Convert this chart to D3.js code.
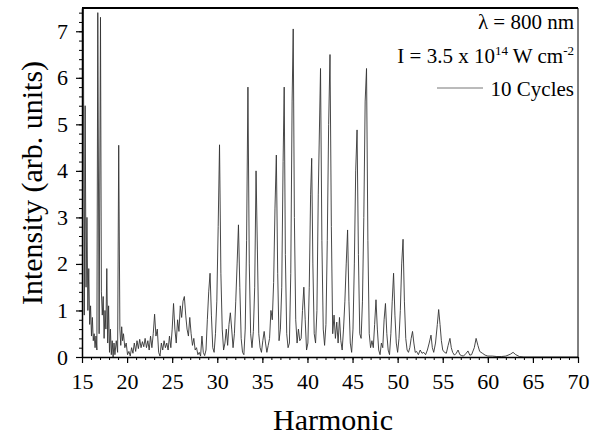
<!DOCTYPE html>
<html>
<head>
<meta charset="utf-8">
<script src="https://cdn.jsdelivr.net/npm/d3@7"></script>
<style>
  body { margin: 0; background: #fff; }
  svg text { font-family: "Liberation Serif", "Times New Roman", serif; fill: #000; }
</style>
</head>
<body>
<svg width="600" height="443"></svg>
<script>
// harmonic order (x) and intensity (y)
var harmonic = [15.0,15.15,15.25,15.35,15.45,15.55,15.65,15.75,15.85,15.95,16.05,16.15,16.25,16.35,16.45,16.55,16.65,16.75,16.9,17.05,
  17.15,17.25,17.35,17.45,17.55,17.65,17.75,17.85,17.95,18.05,18.15,18.25,18.35,18.45,18.55,18.65,18.8,18.95,19.07,19.2,
  19.3,19.4,19.5,19.6,19.75,19.9,20.05,20.2,20.35,20.5,20.65,20.8,20.95,21.1,21.25,21.4,21.55,21.7,21.85,22.0,
  22.15,22.3,22.45,22.6,22.75,22.9,23.05,23.2,23.35,23.5,23.65,23.8,23.95,24.1,24.25,24.4,24.55,24.7,24.85,25.0,
  25.15,25.3,25.45,25.6,25.75,25.9,26.05,26.2,26.35,26.5,26.65,26.8,26.95,27.1,27.25,27.4,27.55,27.7,27.85,28.0,
  28.15,28.3,28.45,28.6,28.75,28.9,29.05,29.2,29.35,29.5,29.65,29.8,29.95,30.1,30.25,30.4,30.55,30.7,30.85,31.0,
  31.15,31.3,31.45,31.6,31.75,31.9,32.05,32.2,32.35,32.5,32.65,32.8,32.95,33.1,33.25,33.4,33.55,33.7,33.85,34.0,
  34.15,34.3,34.45,34.6,34.75,34.9,35.05,35.2,35.35,35.5,35.65,35.8,35.95,36.1,36.25,36.4,36.55,36.7,36.85,37.0,
  37.15,37.3,37.42,37.55,37.7,37.85,38.0,38.15,38.3,38.42,38.55,38.7,38.85,39.0,39.15,39.3,39.45,39.6,39.75,39.9,
  40.05,40.2,40.35,40.47,40.6,40.75,40.9,41.05,41.2,41.45,41.6,41.75,41.9,42.05,42.2,42.35,42.5,42.65,42.8,42.95,
  43.1,43.25,43.4,43.55,43.7,43.85,44.0,44.15,44.3,44.45,44.6,44.75,44.9,45.05,45.2,45.35,45.5,45.65,45.8,45.95,
  46.1,46.25,46.4,46.55,46.7,46.85,47.0,47.15,47.3,47.45,47.6,47.75,47.9,48.05,48.2,48.35,48.5,48.65,48.8,48.95,
  49.1,49.25,49.4,49.55,49.7,49.85,50.0,50.15,50.3,50.45,50.6,50.75,50.9,51.05,51.2,51.35,51.5,51.65,51.8,51.95,
  52.1,52.3,52.5,52.7,52.9,53.1,53.3,53.5,53.7,53.85,54.0,54.2,54.4,54.55,54.7,54.85,55.0,55.2,55.4,55.6,
  55.8,55.95,56.1,56.3,56.5,56.7,56.9,57.1,57.3,57.6,57.8,58.0,58.2,58.5,58.7,58.9,59.1,59.4,59.7,60.0,
  60.5,61.0,61.5,62.0,62.5,62.8,63.1,63.5,64.0,66.0,68.0,70.0];
var intensity = [0.6,7.6,0.9,5.4,1.5,3.0,1.0,1.9,0.7,1.1,0.45,0.85,0.35,0.5,0.2,0.45,0.15,7.4,0.5,7.3,
  1.4,0.9,1.3,0.4,1.0,0.6,1.9,0.3,1.1,0.1,0.6,0.05,0.35,0.0,0.3,0.05,0.35,0.1,4.55,0.6,
  0.25,0.65,0.35,0.5,0.2,0.3,0.05,0.12,0.02,0.2,0.08,0.3,0.12,0.35,0.18,0.38,0.2,0.33,0.22,0.4,
  0.2,0.35,0.15,0.45,0.2,0.5,0.92,0.45,0.6,0.1,0.02,0.3,0.15,0.35,0.2,0.3,0.15,0.45,0.2,0.6,
  1.15,0.6,0.3,0.8,0.55,1.1,0.85,1.2,1.3,0.9,0.6,0.45,0.85,0.5,0.25,0.4,0.15,0.2,0.05,0.1,
  0.02,0.45,0.1,0.03,0.15,0.8,1.4,1.8,0.9,0.2,0.1,0.5,1.2,2.8,4.56,1.8,0.6,0.15,0.3,0.6,
  0.25,0.7,0.95,0.6,0.2,0.5,1.2,2.0,2.84,1.5,0.4,0.1,0.05,0.6,2.5,5.8,2.0,0.5,0.2,0.55,
  1.5,4.0,2.3,0.5,0.2,0.1,0.35,0.55,0.3,0.1,0.25,0.4,1.0,0.8,1.6,3.2,4.34,1.8,0.35,0.6,
  1.5,4.2,5.8,2.2,0.5,0.2,0.3,1.8,5.5,7.05,3.0,0.8,0.3,0.6,0.35,0.4,1.0,1.5,0.8,0.15,
  0.3,1.5,3.5,4.27,2.0,0.5,0.3,1.0,3.5,6.2,2.5,0.6,0.25,0.7,2.5,5.0,6.5,2.8,0.5,0.9,
  0.4,0.75,0.3,0.85,0.35,0.15,0.6,1.2,2.0,2.73,1.2,0.3,0.1,0.6,2.0,4.0,4.88,2.2,0.5,0.4,
  1.2,3.0,5.5,6.2,2.5,0.5,0.2,0.35,0.2,0.7,1.23,0.6,0.15,0.05,0.3,0.2,0.8,1.15,0.5,0.15,
  0.05,0.5,1.2,1.8,0.9,0.3,0.1,0.4,1.0,2.0,2.53,1.2,0.4,0.15,0.1,0.2,0.4,0.55,0.3,0.1,
  0.12,0.05,0.15,0.08,0.1,0.05,0.15,0.3,0.47,0.2,0.1,0.3,0.7,1.02,0.7,0.35,0.15,0.1,0.08,0.25,
  0.4,0.2,0.1,0.04,0.08,0.15,0.05,0.03,0.02,0.08,0.13,0.04,0.05,0.2,0.4,0.25,0.12,0.08,0.04,0.02,
  0.02,0.01,0.01,0.02,0.06,0.1,0.05,0.01,0,0,0,0];

var xTicks = [15,20,25,30,35,40,45,50,55,60,65,70];
var yTicks = [0,1,2,3,4,5,6,7];

var svg = d3.select("svg");
var padL = 82, padR = 578, padT = 8, padB = 357;

var x = d3.scaleLinear().domain([15, 70]).range([padL, padR]);
var y = d3.scaleLinear().domain([0, 7.5]).range([padB, padT]);

svg.append("clipPath").attr("id", "clip")
  .append("rect").attr("x", padL).attr("y", padT).attr("width", padR - padL).attr("height", padB - padT);

var pts = harmonic.map(function (h, i) { return [h, intensity[i]]; });
var line = d3.line().x(function (d) { return x(d[0]); }).y(function (d) { return y(d[1]); });

svg.append("path")
  .attr("clip-path", "url(#clip)")
  .attr("d", line(pts))
  .attr("fill", "none")
  .attr("stroke", "#333")
  .attr("stroke-width", 0.9);

// frame: top and right
svg.append("line").attr("x1", padL).attr("x2", padR).attr("y1", padT).attr("y2", padT)
  .attr("stroke", "#000").attr("stroke-width", 2);
svg.append("line").attr("x1", padR).attr("x2", padR).attr("y1", padT).attr("y2", padB)
  .attr("stroke", "#000").attr("stroke-width", 1);

// minor ticks
svg.append("g").attr("transform", "translate(0," + padB + ")")
  .call(d3.axisBottom(x).tickValues(d3.range(15, 71, 1)).tickSize(3).tickFormat(""))
  .call(function (g) { g.select(".domain").remove(); });
svg.append("g").attr("transform", "translate(" + padL + ",0)")
  .call(d3.axisLeft(y).tickValues(d3.range(0, 7.45, 0.2)).tickSize(3).tickFormat(""))
  .call(function (g) { g.select(".domain").remove(); });

// major axes
var xa = svg.append("g").attr("transform", "translate(0," + padB + ")")
  .call(d3.axisBottom(x).tickValues(xTicks).tickSize(6).tickPadding(10).tickSizeOuter(0));
var ya = svg.append("g").attr("transform", "translate(" + padL + ",0)")
  .call(d3.axisLeft(y).tickValues(yTicks).tickSize(6).tickPadding(8).tickSizeOuter(0));

[xa, ya].forEach(function (g) {
  g.selectAll("text").style("font-size", "22px").style("font-family", "'Liberation Serif', serif");
  g.select(".domain").attr("stroke-width", 1.5);
  g.selectAll(".tick line").attr("stroke-width", 1.2);
});

// axis titles
svg.append("text")
  .attr("x", 333).attr("y", 430)
  .attr("text-anchor", "middle")
  .style("font-size", "30px")
  .text("Harmonic");

svg.append("text")
  .attr("transform", "translate(42,183) rotate(-90)")
  .attr("text-anchor", "middle")
  .style("font-size", "30px")
  .text("Intensity (arb. units)");

// annotation / legend
svg.append("text")
  .attr("x", 574).attr("y", 29)
  .attr("text-anchor", "end")
  .style("font-size", "21px")
  .text("\u03bb = 800 nm");

var t2 = svg.append("text")
  .attr("x", 574).attr("y", 63)
  .attr("text-anchor", "end")
  .style("font-size", "21px");
t2.append("tspan").text("I = 3.5 x 10");
t2.append("tspan").attr("dy", -8).style("font-size", "13px").text("14");
t2.append("tspan").attr("dy", 8).text(" W cm");
t2.append("tspan").attr("dy", -8).style("font-size", "13px").text("-2");

svg.append("line")
  .attr("x1", 437).attr("x2", 483).attr("y1", 88).attr("y2", 88)
  .attr("stroke", "#777").attr("stroke-width", 1);

svg.append("text")
  .attr("x", 574).attr("y", 96)
  .attr("text-anchor", "end")
  .style("font-size", "21px")
  .text("10 Cycles");
</script>
</body>
</html>
